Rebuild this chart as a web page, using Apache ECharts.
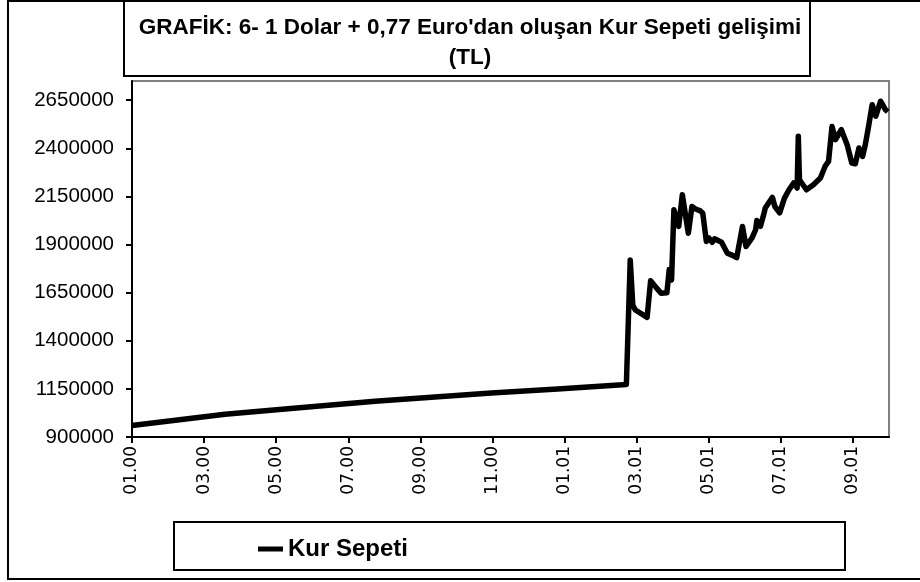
<!DOCTYPE html>
<html>
<head>
<meta charset="utf-8">
<title>Kur Sepeti</title>
<script src="https://cdn.jsdelivr.net/npm/echarts@6/dist/echarts.min.js"></script>
<style>
  html, body { margin: 0; padding: 0; background: #fff; }
  #chart { width: 920px; height: 582px; }
</style>
</head>
<body>
<div id="chart"></div>
<script>
// 1 Dolar + 0,77 Euro kur sepeti (TL), okunan degerler
var dates = [
  '2000-01-01', '2000-03-19', '2000-05-21', '2000-07-24', '2000-10-31', '2000-12-26',
  '2001-02-21', '2001-02-22', '2001-02-24', '2001-02-26', '2001-02-28', '2001-03-10',
  '2001-03-13', '2001-03-18', '2001-03-22', '2001-03-27', '2001-03-29', '2001-03-31',
  '2001-04-02', '2001-04-06', '2001-04-09', '2001-04-14', '2001-04-17', '2001-04-20',
  '2001-04-24', '2001-04-26', '2001-04-29', '2001-05-01', '2001-05-04', '2001-05-06',
  '2001-05-12', '2001-05-17', '2001-05-21', '2001-05-25', '2001-05-30', '2001-06-02',
  '2001-06-07', '2001-06-10', '2001-06-11', '2001-06-14', '2001-06-17', '2001-06-18',
  '2001-06-24', '2001-06-26', '2001-06-30', '2001-07-04', '2001-07-08', '2001-07-12',
  '2001-07-15', '2001-07-16', '2001-07-17', '2001-07-23', '2001-07-29', '2001-08-04',
  '2001-08-08', '2001-08-11', '2001-08-14', '2001-08-17', '2001-08-22', '2001-08-27',
  '2001-08-31', '2001-09-03', '2001-09-06', '2001-09-09', '2001-09-11', '2001-09-14',
  '2001-09-17', '2001-09-20', '2001-09-24', '2001-09-28', '2001-09-30'
]
var kurSepeti = [
  960000, 1018000, 1052000, 1086000, 1129000, 1150000,
  1173000, 1176000, 1820000, 1585000, 1560000, 1522000,
  1712000, 1675000, 1647000, 1650000, 1770000, 1716000,
  2081000, 1994000, 2159000, 1959000, 2098000, 2085000,
  2075000, 2063000, 1916000, 1935000, 1912000, 1930000,
  1912000, 1855000, 1845000, 1832000, 1994000, 1890000,
  1935000, 1977000, 2025000, 1995000, 2063000, 2090000,
  2145000, 2098000, 2065000, 2140000, 2185000, 2220000,
  2194000, 2463000, 2237000, 2185000, 2211000, 2246000,
  2306000, 2332000, 2514000, 2445000, 2497000, 2419000,
  2324000, 2320000, 2402000, 2358000, 2410000, 2514000,
  2627000, 2567000, 2645000, 2601000, 2590000
]
// eksen: ay sirasi (0 = 01.00)
var tickMonths = [0, 2, 4, 6, 8, 10, 12, 14, 16, 18, 20]
var yTicks = [900000, 1150000, 1400000, 1650000, 1900000, 2150000, 2400000, 2650000]

function monthIndex(d) {
  var p = d.split('-')
  var y = +p[0], m = +p[1], day = +p[2]
  var dim = new Date(y, m, 0).getDate()
  return (y - 2000) * 12 + (m - 1) + (day - 1) / dim
}

function monthLabel(v) {
  var mi = Math.round(v)
  var m = (mi % 12) + 1
  var y = (2000 + Math.floor(mi / 12)) % 100
  return (m < 10 ? '0' : '') + m + '.' + (y < 10 ? '0' : '') + y
}

var seriesData = dates.map(function(d, i) {
  return [monthIndex(d), kurSepeti[i]]
})

var chart = echarts.init(document.getElementById('chart'))
chart.setOption({
  backgroundColor: '#fff',
  animation: false,
  title: {
    text: 'GRAFİK: 6- 1 Dolar + 0,77 Euro\'dan oluşan Kur Sepeti gelişimi\n(TL)',
    left: 465,
    top: 8,
    textAlign: 'center',
    textStyle: {
      fontFamily: 'Liberation Sans',
      fontWeight: 'bold',
      fontSize: 22.5,
      lineHeight: 30,
      color: '#000'
    }
  },
  legend: {
    data: ['Kur Sepeti'],
    left: 253,
    top: 532,
    icon: 'rect',
    itemWidth: 25,
    itemHeight: 5,
    textStyle: {
      fontFamily: 'Liberation Sans',
      fontWeight: 'bold',
      fontSize: 24,
      color: '#000'
    }
  },
  grid: {
    left: 132,
    right: 31,
    top: 81,
    bottom: 145,
    show: true,
    borderColor: '#808080',
    borderWidth: 2,
    backgroundColor: '#fff'
  },
  xAxis: {
    type: 'value',
    min: 0,
    max: 21,
    splitLine: { show: false },
    axisLine: { lineStyle: { color: '#000', width: 2 } },
    axisTick: {
      show: true,
      length: 6,
      customValues: tickMonths,
      lineStyle: { color: '#000', width: 2 }
    },
    axisLabel: {
      customValues: tickMonths,
      rotate: 90,
      margin: 9,
      color: '#000',
      fontFamily: 'DejaVu Sans',
      fontSize: 17,
      formatter: monthLabel
    }
  },
  yAxis: {
    type: 'value',
    min: 900000,
    max: 2750000,
    splitLine: { show: false },
    axisLine: { show: true, lineStyle: { color: '#000', width: 2 } },
    axisTick: {
      show: true,
      length: 6,
      customValues: yTicks,
      lineStyle: { color: '#000', width: 2 }
    },
    axisLabel: {
      customValues: yTicks,
      margin: 18,
      color: '#000',
      fontFamily: 'Liberation Sans',
      fontSize: 20.5,
      formatter: function(v) { return String(v) }
    }
  },
  series: [
    {
      name: 'Kur Sepeti',
      type: 'line',
      data: seriesData,
      showSymbol: false,
      color: '#000',
      lineStyle: { color: '#000', width: 5.5, join: 'round' }
    }
  ],
  graphic: [
    {
      type: 'rect',
      shape: { x: 8, y: 1, width: 1000, height: 578 },
      style: { fill: null, stroke: '#000', lineWidth: 2 },
      silent: true
    },
    {
      type: 'rect',
      shape: { x: 124, y: 1, width: 686, height: 75 },
      style: { fill: null, stroke: '#000', lineWidth: 2 },
      silent: true
    },
    {
      type: 'rect',
      shape: { x: 174, y: 522, width: 671, height: 48 },
      style: { fill: null, stroke: '#000', lineWidth: 2 },
      silent: true
    }
  ]
})
</script>
</body>
</html>
